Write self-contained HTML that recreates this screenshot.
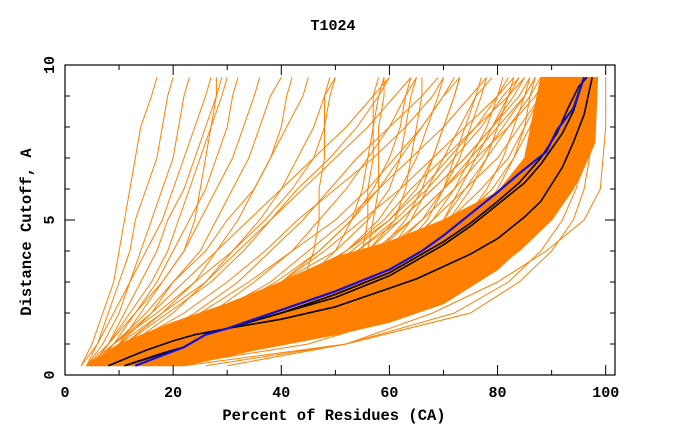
<!DOCTYPE html>
<html><head><meta charset="utf-8"><style>
body{margin:0;background:#fff;width:680px;height:440px;overflow:hidden}
svg{display:block}
text{font-family:"Liberation Mono",monospace;font-weight:bold;fill:#000}
</style></head><body>
<svg id="c" width="680" height="440">
<text x="333" y="30" font-size="15" text-anchor="middle">T1024</text>
<text x="334" y="420" font-size="15.5" text-anchor="middle">Percent of Residues (CA)</text>
<text x="0" y="0" font-size="15.5" text-anchor="middle" transform="translate(31,232) rotate(-90)">Distance Cutoff, A</text>
<g id="plot"></g>
<g id="axes"></g>
</svg>
<script>
const levels=[0.3,1,2,3,4,5,6,7,8,9,9.6];
const bandUpperX=[4,10,20,30,40,50,60,70,80,85,88];
const bandUpperY=[0.3,1,1.7,2.3,3,3.8,4.3,5,5.9,7,9.6];
const bandLowerX=[22,35,50,60,70,80,90,95,98,98.5];
const bandLowerY=[0.3,0.8,1.3,1.7,2.3,3.4,5,6.3,7.5,9.6];
const sparseLines=[
[3,5,7,9,10,11,12,13,14,16,17],[3,6,8,10,12,13,15,17,18,19,20],[4,6,9,12,14,16,18,20,21,22,23],
[4,7,10,12,15,18,20,22,24,26,27],[5,8,11,14,17,19,22,24,26,28,29],[5,8,12,16,19,21,23,25,27,29,30],
[6,9,13,17,20,23,26,28,30,31,32],[6,10,14,18,22,25,28,31,33,35,36],[7,10,16,20,25,28,31,34,36,38,40],
[7,11,18,24,28,32,35,38,41,44,45],[8,12,20,26,31,36,40,43,46,48,50],[5,9,17,24,31,37,42,46,48,49,50],
[5,9,15,20,26,30,35,38,40,41,42],[4,8,13,18,22,24,25,26,27,28,28],[6,11,19,27,33,38,43,49,54,58,60],
[6,12,22,30,37,43,50,57,63,68,70],[6,13,25,34,42,50,56,61,66,70,72],[7,14,28,38,45,52,58,64,70,75,78],
[7,15,30,40,48,55,62,68,74,80,82],[8,16,32,44,52,59,64,70,76,82,85],[8,17,35,48,56,62,68,74,79,84,86],
[9,18,37,50,58,64,70,75,80,85,87],[10,20,36,44,46,47,47,48,48,48,49],[12,22,40,52,55,56,56,57,57,57,58],
[12,22,40,53,56,57,58,58,58,59,59],[8,15,27,35,42,47,52,56,60,63,65],[9,17,30,40,47,53,58,62,66,70,73],
[7,14,24,32,38,44,49,54,60,66,69],[10,19,34,46,54,61,67,72,77,81,84],[9,18,33,45,53,60,66,71,76,80,83],
[11,20,37,50,59,66,72,77,81,85,87],[5,10,18,26,32,38,44,50,56,61,64],[4,9,16,22,28,34,40,46,52,57,60],
[12,24,42,55,64,71,77,82,85,88,89],[14,26,44,57,66,73,79,83,86,88,90],[9,20,40,54,62,68,74,80,84,88,90],
[22,52,75,84,90,94,96,97,97.5,98,98],[26,52,72,82,88,92,94.5,96,97,97.5,98],[30,52,68,80,89,96,99,99.5,100,100,100],
[20,45,64,76,84,90,94,96,97,97.5,98],
[8,18,34,44,52,58,62,65,67,69,70],[9,20,38,50,58,63,66,68,70,72,73],[10,22,40,52,60,66,70,73,75,77,78],
[10,24,42,55,63,68,72,75,78,80,81],[11,25,44,58,66,71,75,78,80,82,83],[12,26,46,60,68,74,78,81,83,85,86],
[12,27,48,62,70,76,80,83,85,86,87],[9,20,36,48,57,64,70,76,82,87,89],[8,17,32,44,54,62,68,74,79,83,85],
[10,21,40,54,62,67,70,72,74,76,77],[7,16,30,42,52,60,65,68,70,72,73],[9,19,36,48,56,61,63,64,65,66,66],
[11,23,42,56,64,70,74,78,82,86,88],[6,14,28,40,50,56,60,62,63,64,65],[8,18,34,44,50,53,55,56,57,58,59],
[10,22,41,53,60,64,67,70,73,76,79],[7,15,29,39,47,53,57,60,62,63,64],[11,24,43,57,65,70,73,76,79,82,84]
];
const blackLineX=[[8,15,20,24,30,40,50,55,60,65,70,75,80,85,88,92,94,96,97,97.5],
[11,20,22,26,30,40,50,60,65,70,75,80,85,88,92,94,96],
[11,18,22,26,30,40,50,60,65,70,75,80,84,88,91,93,95,96.5]];
const blackLineY=[[0.3,0.8,1.1,1.3,1.5,1.8,2.2,2.5,2.8,3.1,3.5,3.9,4.4,5.1,5.6,6.7,7.5,8.4,9.2,9.6],
[0.3,0.8,0.9,1.3,1.5,2,2.5,3.2,3.7,4.2,4.8,5.5,6.2,6.8,7.8,8.5,9.6],
[0.3,0.7,0.9,1.3,1.5,2,2.6,3.3,3.8,4.3,4.9,5.6,6.2,7.0,7.8,8.6,9.3,9.6]];
const blueX=[13,22,26,30,40,50,60,66,70,75,80,84,89,91,94,96];
const blueY=[0.3,0.9,1.3,1.5,2.1,2.7,3.4,4.0,4.5,5.2,5.9,6.5,7.2,7.9,8.6,9.6];
const xTicks=[0,20,40,60,80,100];
const yTicks=[0,5,10];

const X=v=>65+v*5.407, Y=v=>375-v*31;
const NS='http://www.w3.org/2000/svg';
const plot=document.getElementById('plot'), axes=document.getElementById('axes');
function mk(t,a,p){const e=document.createElementNS(NS,t);for(const k in a)e.setAttribute(k,a[k]);(p||plot).appendChild(e);return e;}
function pts(xs,ys){return xs.map((x,i)=>X(x).toFixed(1)+','+Y(ys[i]).toFixed(1)).join(' ');}

const band=mk('polygon',{points:pts(bandUpperX.concat(bandLowerX.slice().reverse()),bandUpperY.concat(bandLowerY.slice().reverse())),fill:'#ff8000',stroke:'#ff8000','stroke-width':1});


sparseLines.forEach((xs,i)=>{
 const l=mk('polyline',{points:pts(xs,levels),fill:'none',stroke:'#ff8000','stroke-width':1});
 
 
});
blackLineX.forEach((xs,i)=>{
 const l=mk('polyline',{points:pts(xs,blackLineY[i]),fill:'none',stroke:'#000','stroke-width':1.6});
 
 
});
const bl=mk('polyline',{points:pts(blueX,blueY),fill:'none',stroke:'#1010e0','stroke-width':2.2});



const frame=mk('rect',{x:65,y:65,width:550,height:310,fill:'none',stroke:'#000','stroke-width':1.2},axes);


for(let v=0;v<=100;v+=10){const L=v%20==0?10:5;
 mk('line',{x1:X(v),x2:X(v),y1:375,y2:375-L,stroke:'#000'},axes);
 mk('line',{x1:X(v),x2:X(v),y1:65,y2:65+L,stroke:'#000'},axes);}
for(let v=0;v<=10;v++){const L=v%5==0?10:5;
 mk('line',{x1:65,x2:65+L,y1:Y(v),y2:Y(v),stroke:'#000'},axes);
 mk('line',{x1:615,x2:615-L,y1:Y(v),y2:Y(v),stroke:'#000'},axes);}
xTicks.forEach(v=>{const t=mk('text',{x:X(v),y:397,'font-size':15,'text-anchor':'middle'},axes);t.textContent=v;
 
 });
yTicks.forEach(v=>{const t=mk('text',{x:0,y:0,'font-size':15,'text-anchor':'middle',transform:`translate(${54},${Y(v)}) rotate(-90)`},axes);t.textContent=v;
 
 });
</script>
</body></html>
